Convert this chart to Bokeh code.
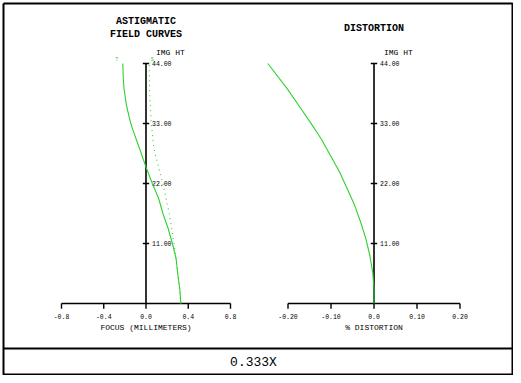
from bokeh.plotting import figure
from bokeh.models import Range1d
from bokeh.core.properties import value
from bokeh.embed import file_html
from bokeh.resources import INLINE

# ---------------- data ----------------
# Astigmatic field curves (focus in mm vs image height)
tan_height = [0, 2.75, 5.5, 8.25, 11, 13.75, 16.5, 19.25, 22, 25, 27.5, 29.6, 31.7, 33.2, 36.3, 39.4, 41.25, 44]
tan_focus = [0.33, 0.32, 0.30, 0.285, 0.25, 0.21, 0.16, 0.12, 0.06, 0.0, -0.045, -0.083, -0.122, -0.147, -0.185, -0.208, -0.215, -0.22]
sag_height = [0, 5.5, 11, 16.5, 22, 27.5, 29.6, 33, 38.5, 44]
sag_focus = [0.33, 0.30, 0.265, 0.22, 0.16, 0.085, 0.068, 0.05, 0.035, 0.03]

# Distortion (% vs image height)
dist_height = [0, 2.7, 5.7, 8.8, 11.9, 14.9, 18.0, 21.0, 24.1, 27.1, 30.2, 33.2, 36.3, 39.4, 44]
dist_pct = [0, 0, -0.003, -0.0097, -0.019, -0.031, -0.045, -0.062, -0.080, -0.101, -0.123, -0.148, -0.175, -0.202, -0.247]

focus_ticks = [-0.8, -0.4, 0.0, 0.4, 0.8]
focus_labels = ["-0.8", "-0.4", "0.0", "0.4", "0.8"]
dist_ticks = [-0.20, -0.10, 0.0, 0.10, 0.20]
dist_labels = ["-0.20", "-0.10", "0.0", "0.10", "0.20"]
height_ticks = [11, 22, 33, 44]
height_labels = ["11.00", "22.00", "33.00", "44.00"]
height_max = 44
magnification = "0.333X"

# ---------------- styles ----------------
FONT = value("Liberation Mono")
GREEN = "#2ed12e"
BLACK = "#000000"

p = figure(width=513, height=375,
           x_range=Range1d(0, 513), y_range=Range1d(375, 0),
           output_backend="svg", toolbar_location=None,
           x_axis_type=None, y_axis_type=None,
           min_border=0, outline_line_color=None,
           background_fill_color="white", border_fill_color="white")

p.extra_x_ranges = {"fx": Range1d(-1.3775, 3.4793), "dx": Range1d(-0.8686, 0.3244)}
p.extra_y_ranges = {"h": Range1d(-13.2, 55.55)}

# frame border and divider (canvas pixel coordinates)
p.multi_line(xs=[[3, 512, 512, 3, 3], [3, 512]],
             ys=[[3, 3, 374, 374, 3], [348, 348]],
             line_color=BLACK, line_width=2)


def panel(xr, ticks, labels, tick_len_y, ytick_half, xlabel):
    # axes
    p.segment(x0=[ticks[0], 0], y0=[0, 0], x1=[ticks[-1], 0], y1=[0, height_max],
              x_range_name=xr, y_range_name="h", line_color=BLACK, line_width=1.6)
    # x ticks
    p.segment(x0=ticks, y0=[0] * len(ticks), x1=ticks, y1=[-tick_len_y] * len(ticks),
              x_range_name=xr, y_range_name="h", line_color=BLACK, line_width=1.4)
    p.text(x=ticks, y=[0] * len(ticks), text=labels, x_range_name=xr, y_range_name="h",
           text_font=FONT, text_font_size="6.5px", text_align="center",
           text_baseline="middle", y_offset=13, text_color=BLACK)
    # y ticks
    p.segment(x0=[-ytick_half] * len(height_ticks), y0=height_ticks,
              x1=[ytick_half] * len(height_ticks), y1=height_ticks,
              x_range_name=xr, y_range_name="h", line_color=BLACK, line_width=1.4)
    p.text(x=[0] * len(height_ticks), y=height_ticks, text=height_labels,
           x_range_name=xr, y_range_name="h", text_font=FONT, text_font_size="6.5px",
           text_align="left", text_baseline="middle", x_offset=6, text_color=BLACK)
    p.text(x=[0], y=[height_max], text=["IMG HT"], x_range_name=xr, y_range_name="h",
           text_font=FONT, text_font_size="8px", text_align="left",
           text_baseline="middle", x_offset=10, y_offset=-11, text_color=BLACK)
    p.text(x=[0], y=[0], text=[xlabel], x_range_name=xr, y_range_name="h",
           text_font=FONT, text_font_size="8px", text_align="center",
           text_baseline="middle", y_offset=24, text_color=BLACK)


panel("fx", focus_ticks, focus_labels, 0.95, 0.03, "FOCUS (MILLIMETERS)")
panel("dx", dist_ticks, dist_labels, 0.95, 0.0075, "% DISTORTION")

# curves
p.line(tan_focus, tan_height, x_range_name="fx", y_range_name="h",
       line_color=GREEN, line_width=1.1)
p.line(sag_focus, sag_height, x_range_name="fx", y_range_name="h",
       line_color=GREEN, line_width=1.1, line_dash="1 4")
p.line(dist_pct, dist_height, x_range_name="dx", y_range_name="h",
       line_color=GREEN, line_width=1.1)

# curve markers
p.text(x=[tan_focus[-1]], y=[tan_height[-1]], text=["T"], x_range_name="fx", y_range_name="h",
       text_font=FONT, text_font_size="5px", text_align="center", text_baseline="middle",
       x_offset=-6, y_offset=-4, text_color=GREEN)
p.text(x=[sag_focus[-1]], y=[sag_height[-1]], text=["S"], x_range_name="fx", y_range_name="h",
       text_font=FONT, text_font_size="5px", text_align="center", text_baseline="middle",
       x_offset=3, y_offset=-4, text_color=GREEN)

# titles
p.text(x=[0, 0], y=[height_max, height_max], text=["ASTIGMATIC", "FIELD CURVES"],
       x_range_name="fx", y_range_name="h", text_font=FONT, text_font_size="10px",
       text_font_style="bold", text_align="center", text_baseline="middle",
       y_offset=[-42, -29], text_color=BLACK)
p.text(x=[0], y=[height_max], text=["DISTORTION"], x_range_name="dx", y_range_name="h",
       text_font=FONT, text_font_size="10px", text_font_style="bold",
       text_align="center", text_baseline="middle", y_offset=-35, text_color=BLACK)

# magnification footer
p.text(x=[253], y=[362], text=[magnification], text_font=FONT, text_font_size="13px",
       text_align="center", text_baseline="middle", text_color=BLACK)

open("out.html", "w").write(file_html(p, INLINE))
